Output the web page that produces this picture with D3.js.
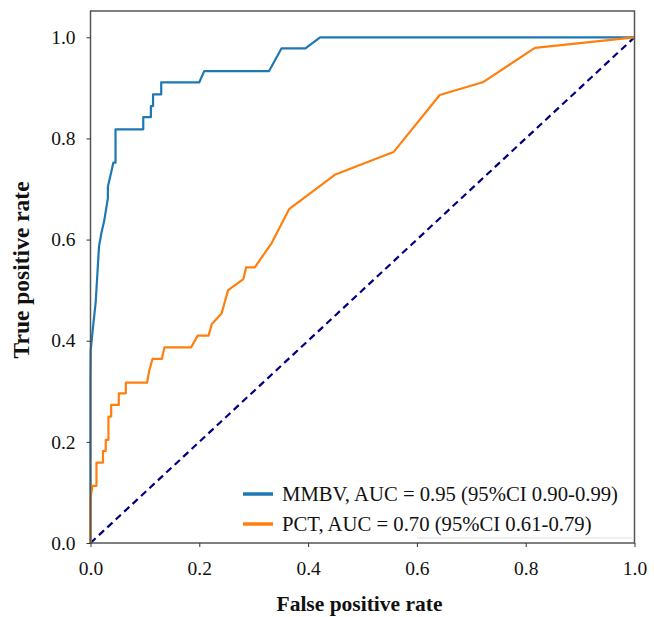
<!DOCTYPE html>
<html>
<head>
<meta charset="utf-8">
<script src="https://cdn.jsdelivr.net/npm/d3@7"></script>
<style>
	body { margin: 0; background: #fff; }
	svg text { font-family: "Liberation Serif", "Times New Roman", serif; fill: #111; }
</style>
</head>
<body>
<div id="chart"></div>
<script>
// ROC points: [false positive rate, true positive rate]
const mmbvFpr = [0, 0, 0.0004, 0.005, 0.0096, 0.0156, 0.020, 0.025, 0.032, 0.032, 0.037, 0.042, 0.046, 0.046, 0.097, 0.097, 0.111, 0.111, 0.115, 0.115, 0.130, 0.130, 0.200, 0.209, 0.328, 0.351, 0.395, 0.422, 1.0];
const mmbvTpr = [0, 0.322, 0.382, 0.431, 0.477, 0.586, 0.613, 0.636, 0.682, 0.705, 0.728, 0.752, 0.752, 0.818, 0.818, 0.842, 0.842, 0.864, 0.864, 0.887, 0.887, 0.911, 0.911, 0.933, 0.933, 0.978, 0.978, 1.0, 1.0];

const pctFpr = [0, 0, 0.0004, 0.0035, 0.011, 0.011, 0.023, 0.023, 0.028, 0.028, 0.033, 0.033, 0.038, 0.038, 0.052, 0.052, 0.065, 0.065, 0.104, 0.108, 0.114, 0.131, 0.136, 0.185, 0.197, 0.217, 0.223, 0.241, 0.253, 0.281, 0.286, 0.302, 0.333, 0.365, 0.449, 0.557, 0.642, 0.721, 0.817, 1.0];
const pctTpr = [0, 0.067, 0.092, 0.113, 0.113, 0.159, 0.159, 0.182, 0.182, 0.204, 0.204, 0.250, 0.250, 0.273, 0.273, 0.296, 0.296, 0.317, 0.317, 0.341, 0.364, 0.364, 0.387, 0.387, 0.410, 0.410, 0.433, 0.454, 0.500, 0.522, 0.545, 0.545, 0.593, 0.660, 0.728, 0.773, 0.886, 0.911, 0.979, 1.0];

const seriesNames = ['MMBV, AUC = 0.95 (95%CI 0.90-0.99)', 'PCT, AUC = 0.70 (95%CI 0.61-0.79)'];
const seriesColors = ['#1f77b4', '#ff7f0e'];
const tickValues = [0, 0.2, 0.4, 0.6, 0.8, 1.0];

var width = 654, height = 617;
var margin = {top: 11, right: 19.5, bottom: 74, left: 90.5};
var innerW = width - margin.left - margin.right;
var innerH = height - margin.top - margin.bottom;

var svg = d3.select('#chart')
	.append('svg')
		.attr('width', width)
		.attr('height', height);

var g = svg.append('g')
	.attr('transform', 'translate(' + margin.left + ',' + margin.top + ')');

var x = d3.scaleLinear().domain([0, 1]).range([0, innerW]);
var y = d3.scaleLinear().domain([0, 1.052]).range([innerH, 0]);

var line = d3.line()
	.x(function(d) { return x(d[0]); })
	.y(function(d) { return y(d[1]); });

// chance diagonal
g.append('path')
	.datum([[0, 0], [1, 1]])
	.attr('d', line)
	.attr('fill', 'none')
	.attr('stroke', '#000080')
	.attr('stroke-width', 2.2)
	.attr('stroke-dasharray', '7,4.5');

var series = [
	d3.zip(mmbvFpr, mmbvTpr),
	d3.zip(pctFpr, pctTpr)
];

series.forEach(function(s, i) {
	g.append('path')
		.datum(s)
		.attr('d', line)
		.attr('fill', 'none')
		.attr('stroke', seriesColors[i])
		.attr('stroke-width', 2.2)
		.attr('stroke-linejoin', 'round');
});

// faint leftover edge of the legend box
g.append('line')
	.attr('x1', x(0.6)).attr('x2', x(0.995))
	.attr('y1', y(0.01)).attr('y2', y(0.01))
	.attr('stroke', '#ddd')
	.attr('stroke-width', 1);

// frame drawn over the curves
g.append('rect')
	.attr('width', innerW)
	.attr('height', innerH)
	.attr('fill', 'none')
	.attr('stroke', '#555')
	.attr('stroke-width', 1.5);

var xAxis = g.append('g')
	.attr('transform', 'translate(0,' + innerH + ')')
	.call(d3.axisBottom(x).tickValues(tickValues).tickFormat(d3.format('.1f')).tickSize(4).tickPadding(14));
var yAxis = g.append('g')
	.call(d3.axisLeft(y).tickValues(tickValues).tickFormat(d3.format('.1f')).tickSize(4).tickPadding(11));

[xAxis, yAxis].forEach(function(a) {
	a.select('.domain').remove();
	a.selectAll('line').attr('stroke', '#333');
	a.selectAll('text')
		.style('font-family', '"Liberation Serif", serif')
		.style('font-size', '19.5px')
		.attr('fill', '#111');
});

// axis titles
svg.append('text')
	.attr('x', margin.left + innerW / 2 - 3)
	.attr('y', 611)
	.attr('text-anchor', 'middle')
	.style('font-size', '21.5px')
	.style('font-weight', 'bold')
	.text('False positive rate');

svg.append('text')
	.attr('transform', 'translate(29,' + (margin.top + y(0.54)) + ')rotate(-90)')
	.attr('text-anchor', 'middle')
	.style('font-size', '23.5px')
	.style('font-weight', 'bold')
	.text('True positive rate');

// legend
var legend = svg.append('g').attr('transform', 'translate(243,494)');
seriesNames.forEach(function(name, i) {
	var row = legend.append('g').attr('transform', 'translate(0,' + (i * 30) + ')');
	row.append('line')
		.attr('x1', 0).attr('x2', 30)
		.attr('stroke', seriesColors[i])
		.attr('stroke-width', 3.5);
	row.append('text')
		.attr('x', 39)
		.attr('y', 7)
		.style('font-size', '20.7px')
		.text(name);
});
</script>
</body>
</html>
